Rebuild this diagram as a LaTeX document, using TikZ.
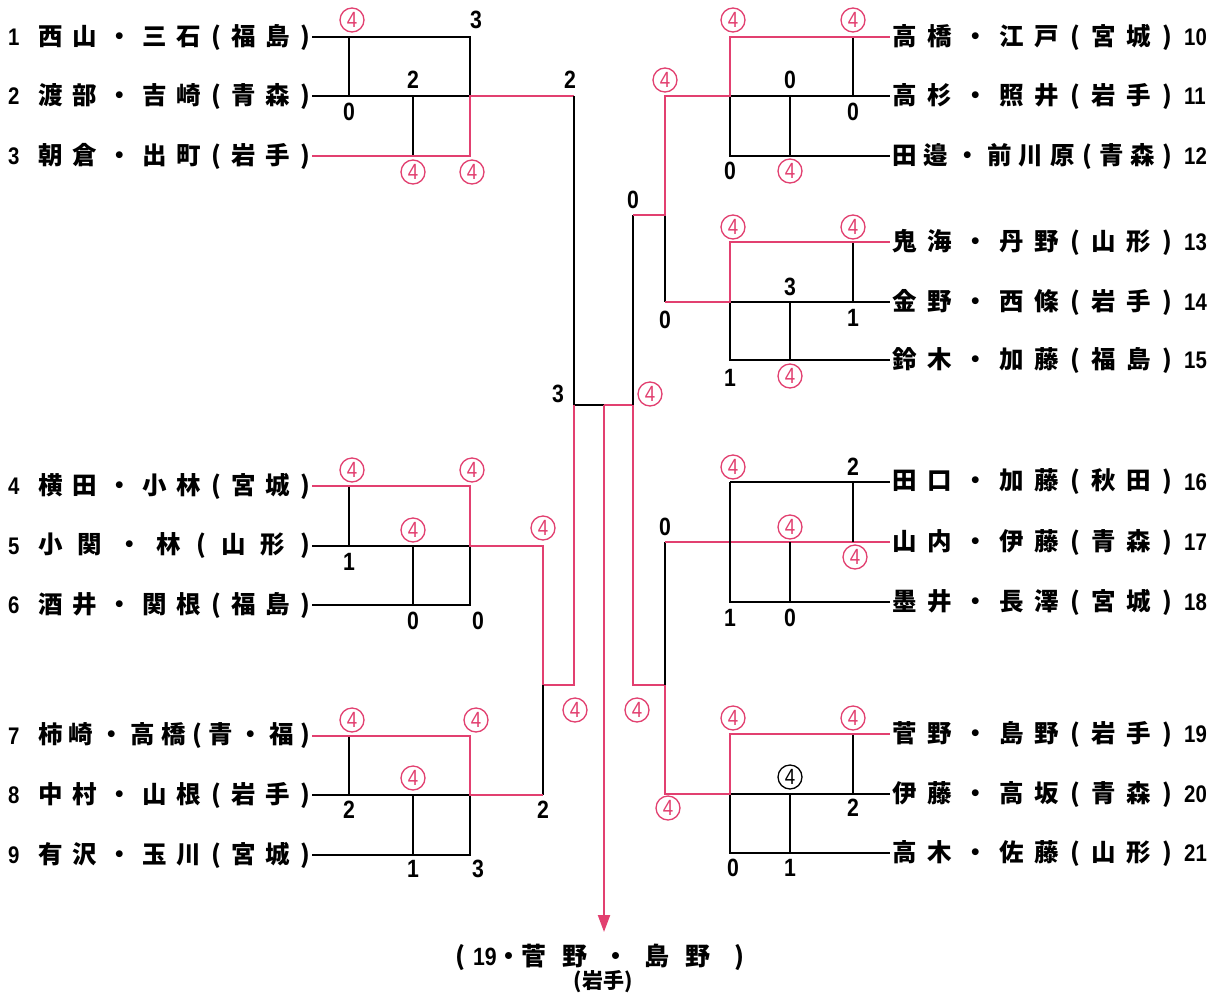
\documentclass[tikz,border=0pt]{standalone}
\usepackage{fontspec}
\usetikzlibrary{arrows.meta}
\newfontfamily\jp{Noto Sans CJK JP}
\newfontfamily\dg{Liberation Sans}[FakeStretch=0.85]
\definecolor{pr}{RGB}{226,64,112}
\newcommand\nmL[1]{\makebox[272pt][s]{#1}}
\newcommand\nmR[1]{\makebox[280pt][s]{#1}}
\begin{document}
\begin{tikzpicture}[x=1pt,y=-1pt,
  bk/.style={line width=2.8pt,black},
  rd/.style={line width=2.1pt,pr},
  nm/.style={anchor=west,inner sep=0pt,font=\jp\bfseries\fontsize{24.5}{24.5}\selectfont},
  nb/.style={anchor=west,inner sep=0pt,font=\dg\bfseries\fontsize{24}{24}\selectfont},
  sc/.style={inner sep=0pt,font=\dg\bfseries\fontsize{25}{25}\selectfont},
  c4/.style={circle,draw=pr,text=pr,line width=1.3pt,inner sep=0pt,minimum size=24pt,font=\dg\fontsize{22}{22}\selectfont},
  c4k/.style={c4,draw=black,text=black}]
\useasboundingbox[fill=white] (0,0) rectangle (1220,996);

% ---------- left names ----------
\foreach \k/\y/\t in {1/37/{西 山 ・ 三 石 ( 福 島 )},2/96/{渡 部 ・ 吉 崎 ( 青 森 )},3/156/{朝 倉 ・ 出 町 ( 岩 手 )},
  4/486/{横 田 ・ 小 林 ( 宮 城 )},5/546/{小 関 ・ 林 ( 山 形 )},6/605/{酒 井 ・ 関 根 ( 福 島 )},
  7/736/{柿 崎 ・ 高 橋 ( 青 ・ 福 )},8/795/{中 村 ・ 山 根 ( 岩 手 )},9/855/{有 沢 ・ 玉 川 ( 宮 城 )}}{
  \node[nb] (k\k) at (8,\y) {\k};
  \node[nm] (n\k) at (38,\y) {\nmL{\t}};
}
% ---------- right names ----------
\foreach \k/\y/\t in {10/37/{高 橋 ・ 江 戸 ( 宮 城 )},11/96/{高 杉 ・ 照 井 ( 岩 手 )},12/156/{田 邉 ・ 前 川 原 ( 青 森 )},
  13/242/{鬼 海 ・ 丹 野 ( 山 形 )},14/302/{金 野 ・ 西 條 ( 岩 手 )},15/360/{鈴 木 ・ 加 藤 ( 福 島 )},
  16/482/{田 口 ・ 加 藤 ( 秋 田 )},17/542/{山 内 ・ 伊 藤 ( 青 森 )},18/602/{墨 井 ・ 長 澤 ( 宮 城 )},
  19/734/{菅 野 ・ 島 野 ( 岩 手 )},20/794/{伊 藤 ・ 高 坂 ( 青 森 )},21/853/{高 木 ・ 佐 藤 ( 山 形 )}}{
  \node[nm] (n\k) at (892,\y) {\nmR{\t}};
  \node[nb] (k\k) at (1184,\y) {\k};
}

% ---------- left group 1-3 ----------
\draw[bk] (312,37) -- (470,37) -- (470,96);
\draw[bk] (349,37) -- (349,96);
\draw[bk] (312,96) -- (470,96);
\draw[bk] (413,96) -- (413,156);
\draw[rd] (312,156) -- (470,156) -- (470,96) -- (574,96);
\draw[bk] (574,96) -- (574,405) -- (604,405);
\node[c4] (a1) at (352,20) {4};
\node[sc] (a2) at (476,20) {3};
\node[sc] (a3) at (349,112) {0};
\node[sc] (a4) at (413,80) {2};
\node[c4] (a5) at (413,172) {4};
\node[c4] (a6) at (472,172) {4};
\node[sc] (a7) at (570,80) {2};

% ---------- left group 4-6 ----------
\draw[bk] (349,486) -- (349,546);
\draw[bk] (312,546) -- (470,546);
\draw[bk] (413,546) -- (413,605);
\draw[bk] (312,605) -- (470,605) -- (470,546);
\draw[rd] (312,486) -- (470,486) -- (470,546) -- (543,546) -- (543,685) -- (574,685) -- (574,405);
\node[c4] (b1) at (352,470) {4};
\node[c4] (b2) at (472,470) {4};
\node[sc] (b3) at (349,562) {1};
\node[c4] (b4) at (413,530) {4};
\node[sc] (b5) at (413,621) {0};
\node[sc] (b6) at (478,621) {0};
\node[c4] (b7) at (543,528) {4};

% ---------- left group 7-9 ----------
\draw[bk] (349,736) -- (349,795);
\draw[bk] (312,795) -- (470,795);
\draw[bk] (413,795) -- (413,855);
\draw[bk] (312,855) -- (470,855) -- (470,795);
\draw[bk] (543,685) -- (543,795);
\draw[rd] (312,736) -- (470,736) -- (470,795) -- (543,795);
\node[c4] (c1) at (352,720) {4};
\node[c4] (c2) at (476,720) {4};
\node[sc] (c3) at (349,810) {2};
\node[c4] (c4n) at (413,778) {4};
\node[sc] (c5) at (413,869) {1};
\node[sc] (c6) at (478,869) {3};
\node[sc] (c7) at (543,810) {2};
\node[c4] (c8) at (575,710) {4};

% ---------- final ----------
\draw[rd] (604,405) -- (633,405);
\coordinate (champ) at (604,932);
\draw[rd,-{Triangle[width=12pt,length=17pt]}] (604,405) -- (champ);
\node[sc] (f1) at (558,394) {3};
\node[c4] (f2) at (650,394) {4};
\node[inner sep=0pt,font=\jp\bfseries\fontsize{25}{25}\selectfont] (w1) at (600,957)
  {\makebox[290pt][s]{( {\dg\bfseries 19}・菅 \ 野 \ ・ \ 島 \ 野 \ \ )}};
\node[inner sep=0pt,font=\jp\bfseries\fontsize{21}{21}\selectfont] (w2) at (603,982) {(岩手)};

% ---------- right semi ----------
\draw[bk] (633,215) -- (633,405);
\draw[rd] (633,405) -- (633,685) -- (665,685);
\node[sc] (r1) at (633,200) {0};
\node[c4] (r2) at (637,710) {4};

% ---------- right top quarter ----------
\draw[bk] (665,215) -- (665,302);
\node[c4] (r3) at (665,80) {4};
\node[sc] (r4) at (665,320) {0};

% group 10-12
\draw[bk] (853,37) -- (853,96);
\draw[bk] (730,96) -- (890,96);
\draw[bk] (790,96) -- (790,156);
\draw[bk] (730,96) -- (730,156) -- (890,156);
\draw[rd] (633,215) -- (665,215) -- (665,96) -- (730,96) -- (730,37) -- (890,37);
\node[c4] (d1) at (733,20) {4};
\node[c4] (d2) at (853,20) {4};
\node[sc] (d3) at (790,80) {0};
\node[sc] (d4) at (853,112) {0};
\node[sc] (d5) at (730,171) {0};
\node[c4] (d6) at (790,171) {4};

% group 13-15
\draw[bk] (853,242) -- (853,302);
\draw[bk] (730,302) -- (890,302);
\draw[bk] (790,302) -- (790,360);
\draw[bk] (730,302) -- (730,360) -- (890,360);
\draw[rd] (665,302) -- (730,302) -- (730,242) -- (890,242);
\node[c4] (e1) at (733,227) {4};
\node[c4] (e2) at (853,227) {4};
\node[sc] (e3) at (790,287) {3};
\node[sc] (e4) at (853,318) {1};
\node[sc] (e5) at (730,378) {1};
\node[c4] (e6) at (790,376) {4};

% ---------- right bottom quarter ----------
\draw[bk] (665,542) -- (665,685);
\node[sc] (r5) at (665,527) {0};
\node[c4] (r6) at (668,808) {4};

% group 16-18
\draw[rd] (665,542) -- (890,542);
\draw[bk] (730,482) -- (890,482);
\draw[bk] (853,482) -- (853,542);
\draw[bk] (730,482) -- (730,602) -- (890,602);
\draw[bk] (790,542) -- (790,602);
\node[c4] (g1) at (733,467) {4};
\node[sc] (g2) at (853,467) {2};
\node[c4] (g3) at (790,527) {4};
\node[c4] (g4) at (855,557) {4};
\node[sc] (g5) at (730,618) {1};
\node[sc] (g6) at (790,618) {0};

% group 19-21
\draw[bk] (853,734) -- (853,794);
\draw[bk] (730,794) -- (890,794);
\draw[bk] (790,794) -- (790,853);
\draw[bk] (730,794) -- (730,853) -- (890,853);
\draw[rd] (665,685) -- (665,794) -- (730,794) -- (730,734) -- (890,734);
\node[c4] (h1) at (733,718) {4};
\node[c4] (h2) at (853,718) {4};
\node[c4k] (h3) at (790,777) {4};
\node[sc] (h4) at (853,808) {2};
\node[sc] (h5) at (733,868) {0};
\node[sc] (h6) at (790,868) {1};
\end{tikzpicture}
\end{document}
